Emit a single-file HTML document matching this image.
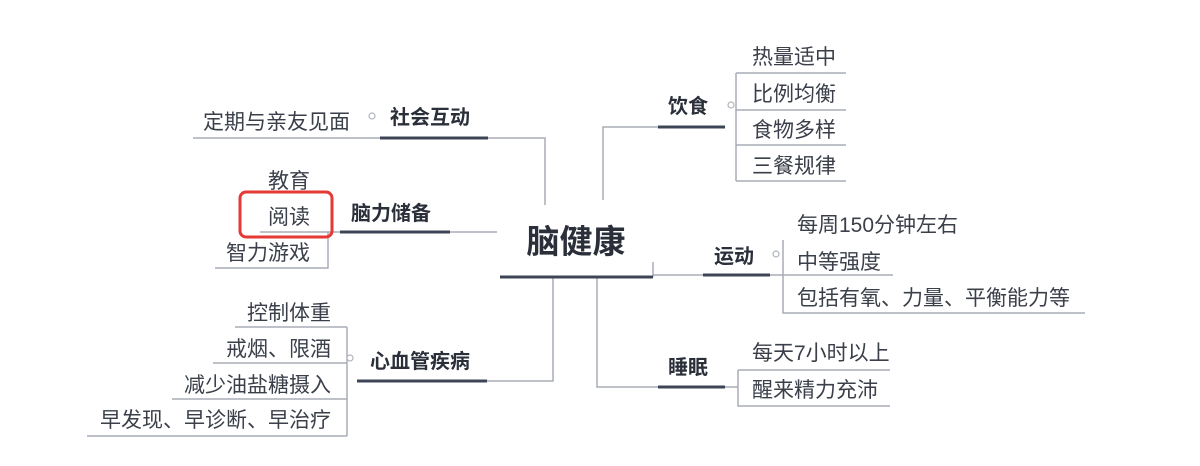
<!DOCTYPE html>
<html><head><meta charset="utf-8"><style>
html,body{margin:0;padding:0;background:#fff;width:1200px;height:466px;overflow:hidden}
svg text{font-family:"Liberation Sans","Noto Sans CJK SC",sans-serif;fill:#3a3f4a}
.b{font-weight:bold;fill:#2a2f3a}
</style></head><body>
<svg width="1200" height="466" viewBox="0 0 1200 466" xmlns="http://www.w3.org/2000/svg">
<g stroke="#a8adb6" stroke-width="1.5" fill="none">
<path d="M488 138 H545 V205"/>
<path d="M450 232 H497"/>
<path d="M487 381 H553 V277"/>
<path d="M725 127 H603 V200"/>
<path d="M653 275 H703"/>
<path d="M653 262 V277"/>
<path d="M597 277 V387 H658"/>
<path d="M736 73 H846 M736 110 H846 M736 145 H846 M736 181 H846 M736 73 V181"/>
<path d="M770 275 H893 M783 240 V313 H1085"/>
<path d="M725 387 H738 M738 370 H890 M738 370 V406 H890"/>
<path d="M193 138 H380"/>
<path d="M260 232 H340 M328 232 V268 H215"/>
<path d="M235 327 H347 M213 363 H347 M172 399 H347 M87 436 H347 M347 327 V436"/>
</g>
<g stroke="#3d4456" stroke-width="3" fill="none">
<path d="M500 277 H653"/>
<path d="M380 138 H488"/>
<path d="M340 232 H450"/>
<path d="M357 381 H487"/>
<path d="M658 127 H725"/>
<path d="M703 275 H770"/>
<path d="M658 387 H725"/>
</g>
<g stroke="#b0b4bb" stroke-width="1.2" fill="#fff">
<circle cx="372" cy="116" r="3"/>
<circle cx="350" cy="358" r="3"/>
<circle cx="731" cy="105" r="3"/>
<circle cx="776" cy="254" r="3"/>
</g>
<text x="576" y="253" class="b" font-size="33" text-anchor="middle">脑健康</text>
<text x="390" y="124" class="b" font-size="20">社会互动</text>
<text x="351" y="220" class="b" font-size="20">脑力储备</text>
<text x="370" y="368" class="b" font-size="20">心血管疾病</text>
<text x="668" y="113" class="b" font-size="20">饮食</text>
<text x="714" y="263" class="b" font-size="20">运动</text>
<text x="668" y="374" class="b" font-size="20">睡眠</text>
<g font-size="21">
<text x="203" y="129">定期与亲友见面</text>
<text x="268" y="188">教育</text>
<text x="268" y="224">阅读</text>
<text x="226" y="260">智力游戏</text>
<text x="331" y="320" text-anchor="end">控制体重</text>
<text x="331" y="356" text-anchor="end">戒烟、限酒</text>
<text x="331" y="392" text-anchor="end">减少油盐糖摄入</text>
<text x="331" y="427" text-anchor="end">早发现、早诊断、早治疗</text>
<text x="752" y="64">热量适中</text>
<text x="752" y="101">比例均衡</text>
<text x="752" y="137">食物多样</text>
<text x="752" y="173">三餐规律</text>
<text x="797" y="232">每周150分钟左右</text>
<text x="797" y="269">中等强度</text>
<text x="797" y="305">包括有氧、力量、平衡能力等</text>
<text x="752" y="360">每天7小时以上</text>
<text x="752" y="397">醒来精力充沛</text>
</g>
<rect x="240" y="192" width="92" height="45" rx="6" fill="none" stroke="#e53935" stroke-width="3"/>
</svg>
</body></html>
